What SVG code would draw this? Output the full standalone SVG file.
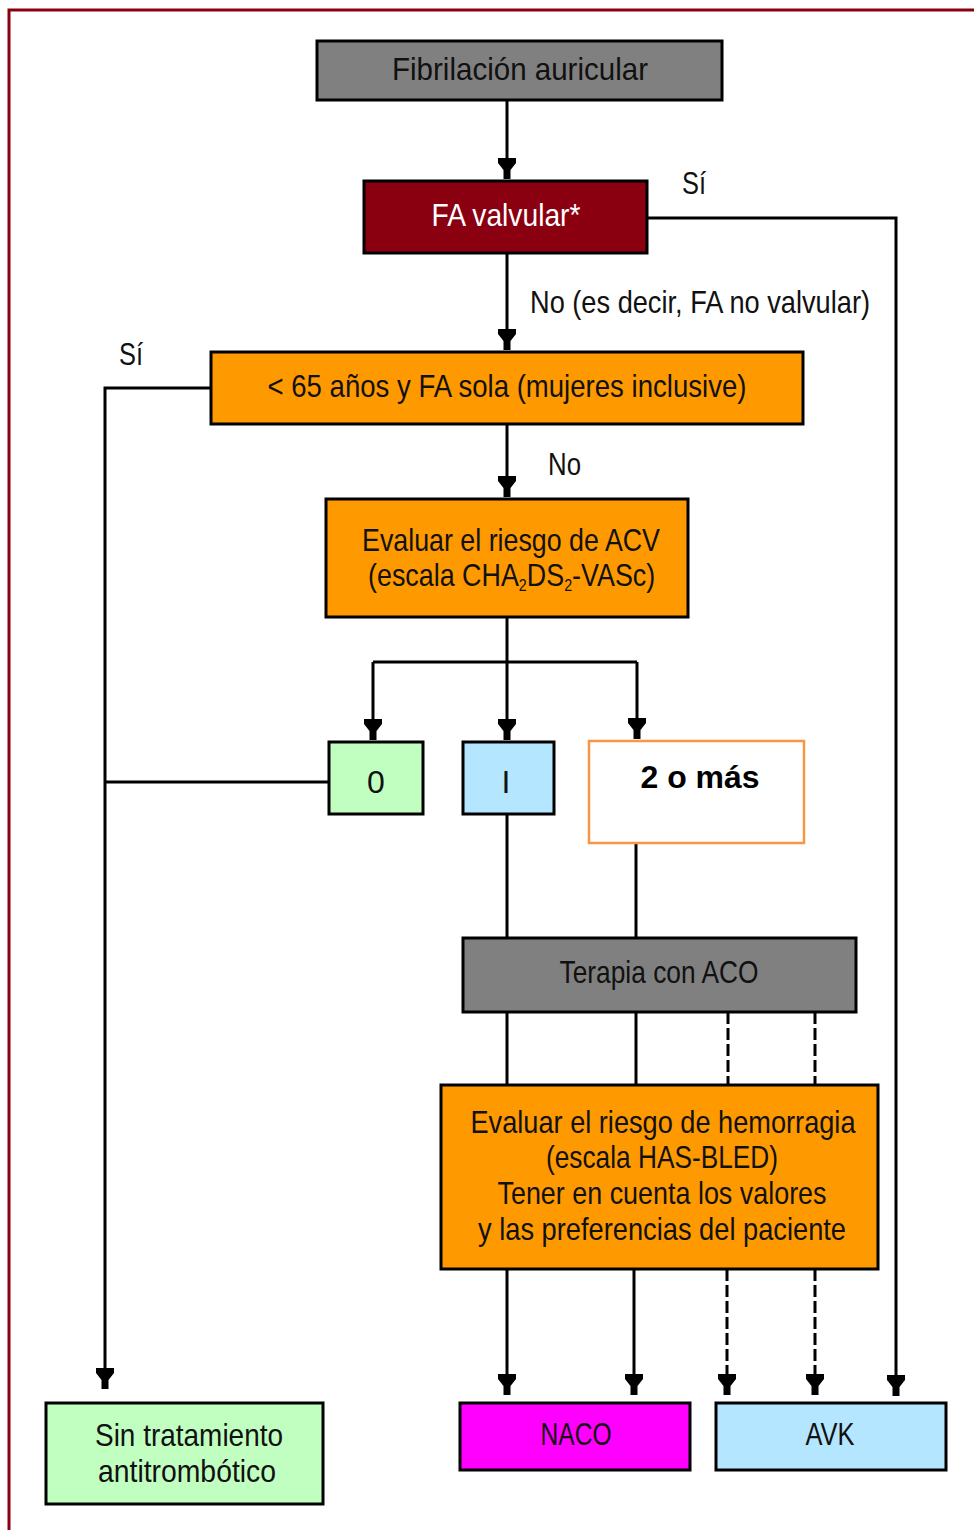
<svg xmlns="http://www.w3.org/2000/svg" width="974" height="1530" viewBox="0 0 974 1530">
<style>
.box{stroke:#000;stroke-width:3}
.t{font-family:"Liberation Sans",Arial,sans-serif;font-size:32px;fill:#111}
.c{text-anchor:middle}
.w{fill:#fff}
.ln{fill:none;stroke:#000;stroke-width:3}
.ds{stroke-dasharray:12 4}
.sub{font-size:17px}
</style>
<defs>
<marker id="ah" markerUnits="userSpaceOnUse" markerWidth="22" markerHeight="20" viewBox="0 -10 22 20" refX="21" refY="0" orient="auto">
<path d="M0,-9 L5,-9 L12,-3.5 L21,-3.5 L21,3.5 L12,3.5 L5,9 L0,9 Z" fill="#000"/>
</marker>
</defs>
<rect width="974" height="1530" fill="#fff"/>
<path d="M9,1530 V10 H974" fill="none" stroke="#8B0011" stroke-width="3"/>

<g id="connectors">
<path class="ln" d="M507,100 V179" marker-end="url(#ah)"/>
<path class="ln" d="M647,218 H896 V1396" marker-end="url(#ah)"/>
<path class="ln" d="M507,253 V350" marker-end="url(#ah)"/>
<path class="ln" d="M211,388 H105 V1389" marker-end="url(#ah)"/>
<path class="ln" d="M329,782 H105"/>
<path class="ln" d="M507,424 V497" marker-end="url(#ah)"/>
<path class="ln" d="M507,617 V740" marker-end="url(#ah)"/>
<path class="ln" d="M373,662 H637"/>
<path class="ln" d="M373,662 V740" marker-end="url(#ah)"/>
<path class="ln" d="M637,662 V739" marker-end="url(#ah)"/>
<path class="ln" d="M507,814 V938"/>
<path class="ln" d="M636,843 V938"/>
<path class="ln" d="M507,1012 V1085"/>
<path class="ln" d="M636,1012 V1085"/>
<path class="ln ds" d="M728,1012 V1085"/>
<path class="ln ds" d="M815,1012 V1085"/>
<path class="ln" d="M507,1269 V1395" marker-end="url(#ah)"/>
<path class="ln" d="M634,1269 V1395" marker-end="url(#ah)"/>
<path class="ln ds" d="M727,1269 V1395" marker-end="url(#ah)"/>
<path class="ln ds" d="M815,1269 V1395" marker-end="url(#ah)"/>
<text class="t" x="682" y="194" textLength="24" lengthAdjust="spacingAndGlyphs">Sí</text>
<text class="t" x="530" y="313" textLength="340" lengthAdjust="spacingAndGlyphs">No (es decir, FA no valvular)</text>
<text class="t" x="119" y="365" textLength="24" lengthAdjust="spacingAndGlyphs">Sí</text>
<text class="t" x="548" y="475" textLength="33" lengthAdjust="spacingAndGlyphs">No</text>
</g>

<g id="n-fa">
<rect class="box" x="317" y="41" width="405" height="59" fill="#808080"/>
<text class="t c" x="520" y="80" textLength="256" lengthAdjust="spacingAndGlyphs">Fibrilación auricular</text>
</g>
<g id="n-valvular">
<rect class="box" x="364" y="181" width="283" height="72" fill="#8B0011"/>
<text class="t c w" x="506" y="226" textLength="149" lengthAdjust="spacingAndGlyphs">FA valvular*</text>
</g>
<g id="n-65">
<rect class="box" x="211" y="352" width="592" height="72" fill="#FF9900"/>
<text class="t c" x="507" y="397" textLength="479" lengthAdjust="spacingAndGlyphs">&lt; 65 años y FA sola (mujeres inclusive)</text>
</g>
<g id="n-acv">
<rect class="box" x="326" y="499" width="362" height="118" fill="#FF9900"/>
<text class="t c" x="511" y="551" textLength="298" lengthAdjust="spacingAndGlyphs">Evaluar el riesgo de ACV</text>
<text class="t" transform="translate(368,586) scale(0.84,1)" x="0" y="0">(escala CHA<tspan class="sub" dy="5">2</tspan><tspan dy="-5">DS</tspan><tspan class="sub" dy="5">2</tspan><tspan dy="-5">-VASc)</tspan></text>
</g>
<g id="n-0">
<rect class="box" x="329" y="742" width="94" height="72" fill="#C0FFC0"/>
<text class="t c" x="376" y="793">0</text>
</g>
<g id="n-1">
<rect class="box" x="463" y="742" width="91" height="72" fill="#B4E6FF"/>
<text class="t c" x="506" y="793">I</text>
</g>
<g id="n-2">
<rect x="589" y="741" width="215" height="102" fill="#fff" stroke="#F79646" stroke-width="2.5"/>
<text class="c" x="700" y="788" font-family="'Liberation Sans',Arial,sans-serif" font-weight="bold" font-size="32" fill="#000" textLength="119" lengthAdjust="spacingAndGlyphs">2 o más</text>
</g>
<g id="n-aco">
<rect class="box" x="463" y="938" width="393" height="74" fill="#808080"/>
<text class="t c" x="659" y="983" textLength="199" lengthAdjust="spacingAndGlyphs">Terapia con ACO</text>
</g>
<g id="n-hem">
<rect class="box" x="441" y="1085" width="437" height="184" fill="#FF9900"/>
<text class="t c" x="663" y="1133" textLength="385" lengthAdjust="spacingAndGlyphs">Evaluar el riesgo de hemorragia</text>
<text class="t c" x="662" y="1168" textLength="232" lengthAdjust="spacingAndGlyphs">(escala HAS-BLED)</text>
<text class="t c" x="662" y="1204" textLength="329" lengthAdjust="spacingAndGlyphs">Tener en cuenta los valores</text>
<text class="t c" x="662" y="1240" textLength="368" lengthAdjust="spacingAndGlyphs">y las preferencias del paciente</text>
</g>
<g id="n-sin">
<rect class="box" x="46" y="1403" width="277" height="101" fill="#C0FFC0"/>
<text class="t c" x="189" y="1446" textLength="188" lengthAdjust="spacingAndGlyphs">Sin tratamiento</text>
<text class="t c" x="187" y="1482" textLength="178" lengthAdjust="spacingAndGlyphs">antitrombótico</text>
</g>
<g id="n-naco">
<rect class="box" x="460" y="1403" width="230" height="67" fill="#FF00FF"/>
<text class="t c" x="576" y="1445" textLength="71" lengthAdjust="spacingAndGlyphs">NACO</text>
</g>
<g id="n-avk">
<rect class="box" x="716" y="1403" width="230" height="67" fill="#B4E6FF"/>
<text class="t c" x="830" y="1445" textLength="49" lengthAdjust="spacingAndGlyphs">AVK</text>
</g>
</svg>
